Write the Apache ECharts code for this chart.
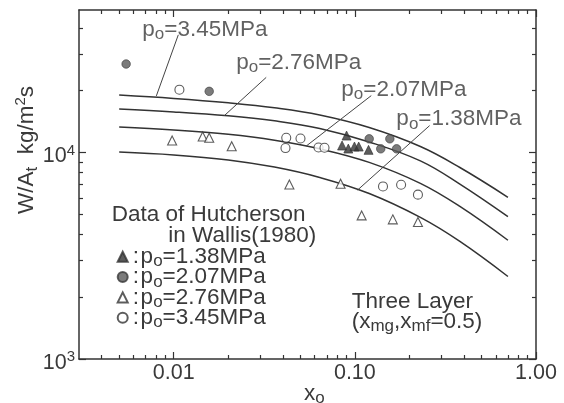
<!DOCTYPE html>
<html>
<head>
<meta charset="utf-8">
<script src="https://cdn.jsdelivr.net/npm/echarts@6/dist/echarts.min.js"></script>
<style>
  html, body { margin: 0; padding: 0; background: #fff; }
  #chart { width: 564px; height: 403px; }
</style>
</head>
<body>
<div id="chart"></div>
<script>
// Three-layer model: W/A_t against x_o for four stagnation pressures
const curveX   = [0.005, 0.01, 0.02, 0.036, 0.064, 0.12, 0.23, 0.38, 0.70];
const curve345 = [18990, 18280, 17400, 16460, 15190, 13210, 10690, 8460, 6070];
const curve276 = [16240, 15730, 15060, 14240, 13080, 11250, 9110, 7030, 4890];
const curve207 = [13290, 12860, 12250, 11470, 10420, 8960, 7090, 5480, 3760];
const curve138 = [10060, 9740, 9210, 8500, 7570, 6330, 4850, 3710, 2510];
const curveNames = ['3.45MPa', '2.76MPa', '2.07MPa', '1.38MPa'];

// Measured points, Hutcherson in Wallis (1980)
const p138X = [0.090, 0.085, 0.092, 0.0995, 0.105, 0.119];
const p138Y = [12080, 10810, 10450, 10690, 10690, 10300];
const p207X = [0.00546, 0.0157, 0.12, 0.156, 0.139, 0.170];
const p207Y = [26830, 19780, 11650, 11650, 10420, 10420];
const p276X = [0.0098, 0.01445, 0.0157, 0.0209, 0.0435, 0.0834, 0.109, 0.162, 0.223];
const p276Y = [11430, 11950, 11780, 10720, 7005, 7060, 4960, 4745, 4605];
const p345X = [0.01075, 0.0418, 0.0414, 0.0501, 0.063, 0.068, 0.143, 0.180, 0.223];
const p345Y = [20150, 11780, 10510, 11690, 10570, 10540, 6850, 6980, 6250];
const pointNames = ['1.38MPa', '2.07MPa', '2.76MPa', '3.45MPa'];

// Axis ticks
const xMajorTicks = [0.01, 0.1, 1];
const xTickLabels = ['0.01', '0.10', '1.00'];
const xMinorTicks = [0.004, 0.005, 0.006, 0.007, 0.008, 0.009,
                     0.02, 0.03, 0.04, 0.05, 0.06, 0.07, 0.08, 0.09,
                     0.2, 0.3, 0.4, 0.5, 0.6, 0.7, 0.8, 0.9];
const yMajorTicks = [1000, 10000];
const yTickExponents = ['3', '4'];
const yMinorTicks = [2000, 3000, 4000, 5000, 6000, 7000, 8000, 9000, 20000, 30000, 40000];

// Where the curve captions and their leader lines sit (data coordinates)
const captionLayout = {
  text: [[0.00671, 39300], [0.02213, 27300], [0.0842, 20200], [0.1695, 14550]],
  leader: [
    [[0.0106, 37150], [0.00802, 18800]],
    [[0.0324, 23110], [0.01905, 15100]],
    [[0.1232, 18860], [0.0539, 10750]],
    [[0.2587, 13500], [0.1035, 6580]]
  ]
};

const FONT = '"Liberation Sans", Arial, Helvetica, sans-serif';
const INK = '#3a3a3a';
const LINE = '#333';
const BIG = 22.5;
const SUB = { fontSize: 17, fontFamily: FONT, color: INK, padding: [10, 0, 0, 0] };

const pairs = (xs, ys) => xs.map((x, i) => [x, ys[i]]);
const nearestIndex = (arr, v) => {
  let best = 0;
  arr.forEach((a, i) => { if (Math.abs(Math.log10(a / v)) < Math.abs(Math.log10(arr[best] / v))) best = i; });
  return best;
};

const GRID = { left: 79, right: 28, top: 10, bottom: 44 };

function xAx(grid, pos, ticks, len, withLine, withLabels) {
  return {
    type: 'log', logBase: 10, min: 0.003, max: 1, gridIndex: grid, position: pos,
    splitLine: { show: false }, minorTick: { show: false },
    axisLine: { show: withLine, onZero: false, lineStyle: { color: LINE, width: 1.5 } },
    axisTick: { show: true, inside: true, length: len, customValues: ticks, lineStyle: { color: LINE, width: 1.2 } },
    axisLabel: withLabels ? {
      show: true, customValues: xMajorTicks, margin: 3,
      fontSize: 21.5, fontFamily: FONT, color: INK,
      formatter: v => xTickLabels[nearestIndex(xMajorTicks, v)]
    } : { show: false }
  };
}
function yAx(grid, pos, ticks, len, withLine, withLabels) {
  return {
    type: 'log', logBase: 10, min: 1000, max: 49000, gridIndex: grid, position: pos,
    splitLine: { show: false }, minorTick: { show: false },
    axisLine: { show: withLine, onZero: false, lineStyle: { color: LINE, width: 1.5 } },
    axisTick: { show: true, inside: true, length: len, customValues: ticks, lineStyle: { color: LINE, width: 1.2 } },
    axisLabel: withLabels ? {
      show: true, customValues: yMajorTicks, margin: 4, padding: [8, 0, 0, 0],
      fontSize: 21.5, fontFamily: FONT, color: INK,
      formatter: v => '10{sup|' + yTickExponents[nearestIndex(yMajorTicks, v)] + '}',
      rich: { sup: { fontSize: 15, fontFamily: FONT, color: INK, padding: [0, 0, 12, 0] } }
    } : { show: false }
  };
}

const curveSeries = [curve345, curve276, curve207, curve138].map((ys, i) => ({
  type: 'line', name: 'model ' + curveNames[i], xAxisIndex: 0, yAxisIndex: 0,
  data: pairs(curveX, ys), smooth: 0.4, showSymbol: false, symbol: 'none',
  lineStyle: { color: LINE, width: 1.5 }, silent: true, z: 2
}));

const leaderSeries = captionLayout.leader.map((seg, i) => ({
  type: 'line', name: 'leader ' + curveNames[i], xAxisIndex: 0, yAxisIndex: 0,
  data: seg, symbol: 'none', lineStyle: { color: '#444', width: 1 }, silent: true, z: 2
}));

const captionSeries = {
  type: 'scatter', name: 'captions', xAxisIndex: 0, yAxisIndex: 0,
  symbolSize: 0, silent: true, z: 5,
  data: captionLayout.text.map(p => p),
  label: {
    show: true, position: [0, 0], align: 'left', verticalAlign: 'middle',
    fontSize: BIG, fontFamily: FONT, color: INK,
    formatter: prm => 'p{s|o}=' + curveNames[prm.dataIndex],
    rich: { s: SUB }
  }
};

const pointStyles = [
  { symbol: 'triangle', symbolSize: 9, itemStyle: { color: '#333', borderColor: '#333', borderWidth: 0.8 } },
  { symbol: 'circle', symbolSize: 8.5, itemStyle: { color: '#5a5a5a', borderColor: '#3a3a3a', borderWidth: 0.8 } },
  { symbol: 'triangle', symbolSize: 9, itemStyle: { color: '#fff', borderColor: '#333', borderWidth: 1.1 } },
  { symbol: 'circle', symbolSize: 9, itemStyle: { color: '#fff', borderColor: '#333', borderWidth: 1.1 } }
];
const pointData = [pairs(p138X, p138Y), pairs(p207X, p207Y), pairs(p276X, p276Y), pairs(p345X, p345Y)];
const pointSeries = pointData.map((d, i) => Object.assign({
  type: 'scatter', name: pointNames[i], xAxisIndex: 0, yAxisIndex: 0,
  data: d, silent: true, z: 4
}, pointStyles[i]));

const chart = echarts.init(document.getElementById('chart'), null, { renderer: 'canvas' });
chart.setOption({
  animation: false,
  backgroundColor: '#fff',
  grid: [Object.assign({}, GRID), Object.assign({}, GRID)],
  xAxis: [
    xAx(0, 'bottom', xMajorTicks, 7, true, true),
    xAx(0, 'top', xMajorTicks, 7, true, false),
    xAx(1, 'bottom', xMinorTicks, 4, false, false),
    xAx(1, 'top', xMinorTicks, 4, false, false)
  ],
  yAxis: [
    yAx(0, 'left', yMajorTicks, 7, true, true),
    yAx(0, 'right', yMajorTicks, 7, true, false),
    yAx(1, 'left', yMinorTicks, 4, false, false),
    yAx(1, 'right', yMinorTicks, 4, false, false)
  ],
  legend: {
    data: pointNames, orient: 'vertical', left: 116.7, top: 245.3, padding: 0,
    itemGap: -4.7, itemWidth: 10, itemHeight: 10, selectedMode: false,
    formatter: n => ':{g| }p{s|o}=' + n,
    textStyle: {
      fontSize: BIG, fontFamily: FONT, color: INK,
      rich: {
        s: SUB,
        g: { fontSize: 6, fontFamily: FONT }
      }
    }
  },
  graphic: [
    { type: 'text', left: 111.7, top: 203, silent: true,
      style: { text: 'Data of Hutcherson', font: BIG + 'px ' + FONT, fill: INK } },
    { type: 'text', left: 168.3, top: 224, silent: true,
      style: { text: 'in Wallis(1980)', font: BIG + 'px ' + FONT, fill: INK } },
    { type: 'text', left: 351.7, top: 290.7, silent: true,
      style: { text: 'Three Layer', font: BIG + 'px ' + FONT, fill: INK } },
    { type: 'text', left: 351.7, top: 310, silent: true,
      style: { text: '(x{s|mg},x{s|mf}=0.5)', font: BIG + 'px ' + FONT, fill: INK, rich: { s: SUB } } },
    { type: 'text', left: 304, top: 382, silent: true,
      style: { text: 'x{s|o}', font: BIG + 'px ' + FONT, fill: INK, rich: { s: SUB } } },
    { type: 'text', x: 27, y: 150, rotation: Math.PI / 2, silent: true,
      style: { text: 'W/A{s|t}  kg/m{p|2}s', font: BIG + 'px ' + FONT, fill: INK,
               align: 'center', verticalAlign: 'middle',
               rich: { s: SUB, p: { fontSize: 15, fontFamily: FONT, color: INK, padding: [0, 0, 12, 0] } } } }
  ],
  series: [].concat(curveSeries, leaderSeries, [captionSeries], pointSeries)
});
</script>
</body>
</html>
